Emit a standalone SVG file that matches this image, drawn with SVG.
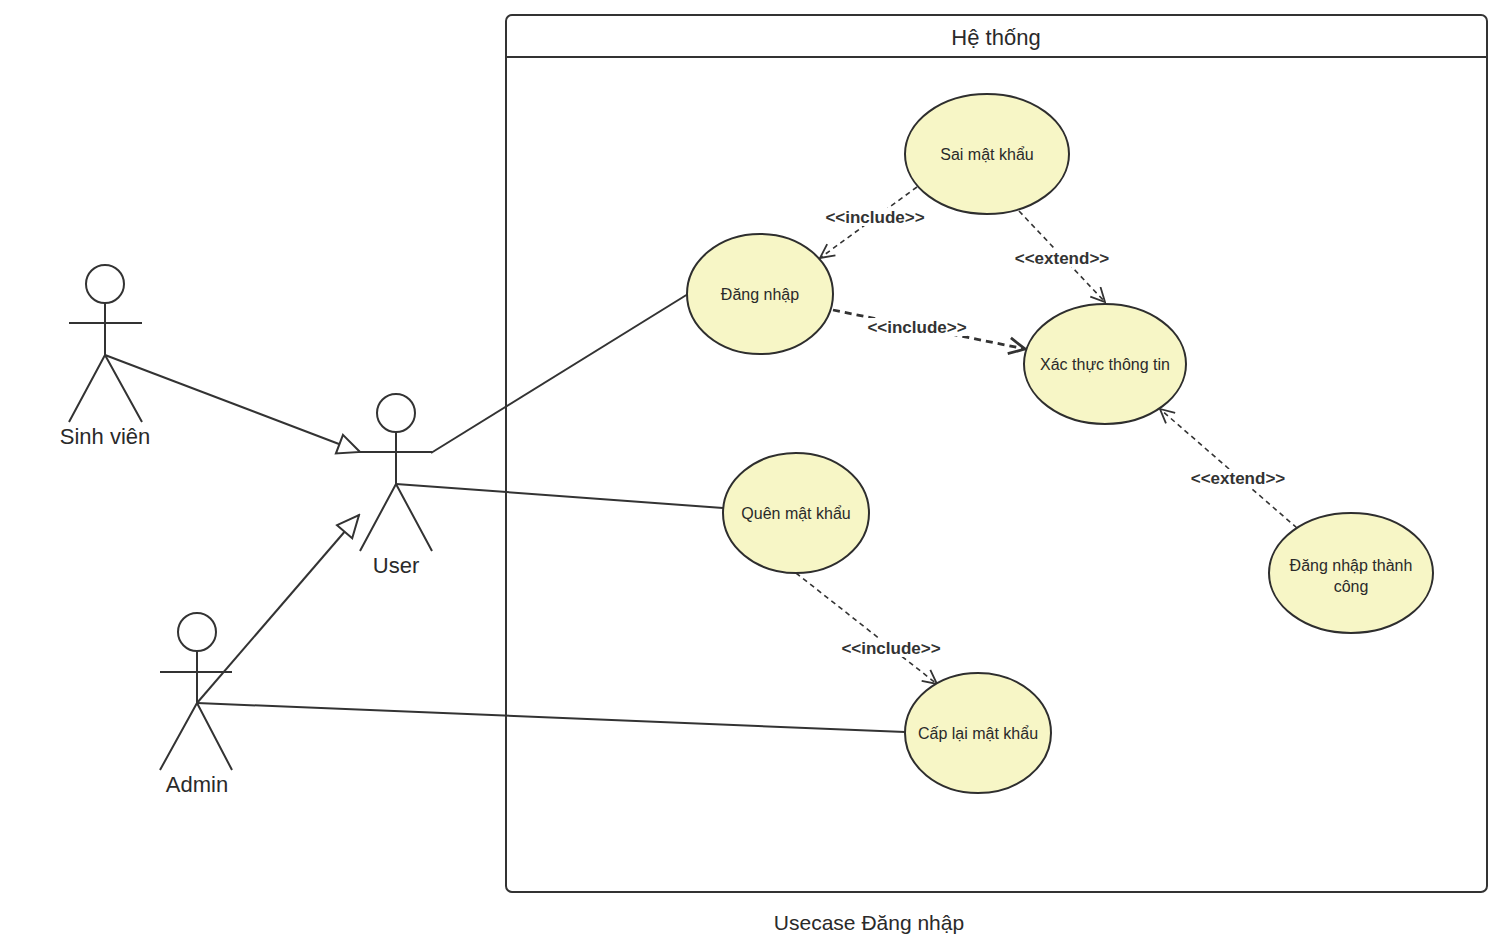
<svg xmlns="http://www.w3.org/2000/svg" width="1511" height="945" viewBox="0 0 1511 945">
<style>
.uc{fill:#f7f6c6;stroke:#2e2e2e;stroke-width:2}
.uct{font-family:"Liberation Sans",Arial,sans-serif;font-size:16px;fill:#2a2a2a;text-anchor:middle}
.act{fill:none;stroke:#333;stroke-width:2}
.actt{font-family:"Liberation Sans",Arial,sans-serif;font-size:22px;fill:#2a2a2a;text-anchor:middle}
.solid{fill:none;stroke:#333;stroke-width:2}
.dash{fill:none;stroke:#333;stroke-width:1.6;stroke-dasharray:5 4}
.dashb{fill:none;stroke:#333;stroke-width:2.8;stroke-dasharray:7 5}
.bg{fill:#fff;stroke:none}
.lbl{font-family:"Liberation Sans",Arial,sans-serif;font-size:17px;font-weight:bold;fill:#333;text-anchor:middle}
</style>
<defs>
<marker id="open" markerUnits="userSpaceOnUse" viewBox="0 0 16 16" refX="15" refY="8" markerWidth="16" markerHeight="16" orient="auto">
<path d="M1,1 L15,8 L1,15" fill="none" stroke="#333" stroke-width="1.8"/>
</marker>
<marker id="openb" markerUnits="userSpaceOnUse" viewBox="0 0 20 20" refX="18" refY="10" markerWidth="20" markerHeight="20" orient="auto">
<path d="M2,2 L18,10 L2,18" fill="none" stroke="#333" stroke-width="2.8"/>
</marker>
<marker id="tri" markerUnits="userSpaceOnUse" viewBox="0 0 26 24" refX="24" refY="12" markerWidth="26" markerHeight="24" orient="auto">
<path d="M2,2 L24,12 L2,22 Z" fill="#fff" stroke="#333" stroke-width="2"/>
</marker>
</defs>
<rect width="1511" height="945" fill="#fff"/>
<g id="system">
<rect x="506" y="15" width="981" height="877" rx="6" fill="none" stroke="#333" stroke-width="2"/>
<line x1="506" y1="57" x2="1487" y2="57" stroke="#333" stroke-width="2"/>
<text x="996" y="45" class="actt">Hệ thống</text>
</g>
<g id="connectors">
<line class="solid" x1="105" y1="355" x2="360" y2="452" marker-end="url(#tri)"/>
<line class="solid" x1="197" y1="703" x2="359" y2="515" marker-end="url(#tri)"/>
<line class="solid" x1="431" y1="453" x2="688" y2="294"/>
<line class="solid" x1="396" y1="484" x2="723" y2="508"/>
<line class="solid" x1="197" y1="703" x2="905" y2="732"/>
<line class="dash" x1="917" y1="187" x2="820" y2="258" marker-end="url(#open)"/>
<line class="dash" x1="1019" y1="211" x2="1105" y2="302" marker-end="url(#open)"/>
<line class="dashb" x1="833" y1="310" x2="1025" y2="349" marker-end="url(#openb)"/>
<line class="dash" x1="1297" y1="528" x2="1160" y2="409" marker-end="url(#open)"/>
<line class="dash" x1="796" y1="573" x2="937" y2="684" marker-end="url(#open)"/>
<rect class="bg" x="825" y="208" width="100" height="18"/>
<rect class="bg" x="1014" y="249" width="96" height="18"/>
<rect class="bg" x="867" y="318" width="100" height="18"/>
<rect class="bg" x="1190" y="469" width="96" height="18"/>
<rect class="bg" x="841" y="639" width="100" height="18"/>
<text class="lbl" x="875" y="223">&lt;&lt;include&gt;&gt;</text>
<text class="lbl" x="1062" y="264">&lt;&lt;extend&gt;&gt;</text>
<text class="lbl" x="917" y="333">&lt;&lt;include&gt;&gt;</text>
<text class="lbl" x="1238" y="484">&lt;&lt;extend&gt;&gt;</text>
<text class="lbl" x="891" y="654">&lt;&lt;include&gt;&gt;</text>
</g>
<g id="actor-sinhvien">
<circle class="act" cx="105" cy="284" r="19"/>
<path class="act" d="M105,303 V355 M69,323 H142 M105,355 L69,422 M105,355 L142,422"/>
<text class="actt" x="105" y="444">Sinh viên</text>
</g>
<g id="actor-user">
<circle class="act" cx="396" cy="413" r="19"/>
<path class="act" d="M396,432 V484 M360,452 H432 M396,484 L360,551 M396,484 L432,551"/>
<text class="actt" x="396" y="573">User</text>
</g>
<g id="actor-admin">
<circle class="act" cx="197" cy="632" r="19"/>
<path class="act" d="M197,651 V703 M160,672 H232 M197,703 L160,770 M197,703 L232,770"/>
<text class="actt" x="197" y="792">Admin</text>
</g>
<g id="uc-sai">
<ellipse class="uc" cx="987" cy="154" rx="82" ry="60"/>
<text class="uct" x="987" y="160">Sai mật khẩu</text>
</g>
<g id="uc-dangnhap">
<ellipse class="uc" cx="760" cy="294" rx="73" ry="60"/>
<text class="uct" x="760" y="300">Đăng nhập</text>
</g>
<g id="uc-xacthuc">
<ellipse class="uc" cx="1105" cy="364" rx="81" ry="60"/>
<text class="uct" x="1105" y="370">Xác thực thông tin</text>
</g>
<g id="uc-quen">
<ellipse class="uc" cx="796" cy="513" rx="73" ry="60"/>
<text class="uct" x="796" y="519">Quên mật khẩu</text>
</g>
<g id="uc-thanhcong">
<ellipse class="uc" cx="1351" cy="573" rx="82" ry="60"/>
<text class="uct" x="1351" y="571">Đăng nhập thành</text>
<text class="uct" x="1351" y="592">công</text>
</g>
<g id="uc-caplai">
<ellipse class="uc" cx="978" cy="733" rx="73" ry="60"/>
<text class="uct" x="978" y="739">Cấp lại mật khẩu</text>
</g>
<text class="actt" x="869" y="930" style="font-size:21px">Usecase Đăng nhập</text>
</svg>
